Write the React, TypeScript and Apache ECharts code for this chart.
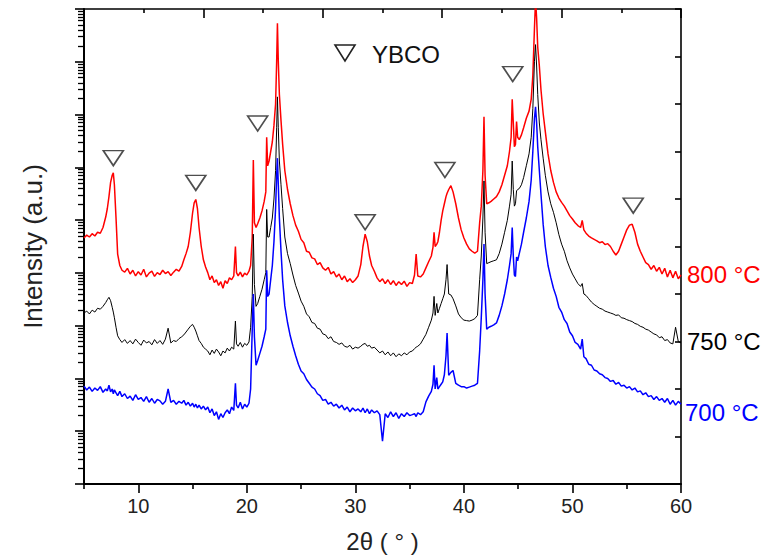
import React, { useEffect, useRef } from "react";
import * as echarts from "echarts";

// 2θ grid shared by the three patterns (degrees)
const twoTheta = [
  5.0, 5.25, 5.5, 5.75, 6.0, 6.25, 6.5, 6.75, 7.0,
  7.15, 7.3, 7.45, 7.6, 7.7, 7.8, 7.95, 8.1, 8.3, 8.5,
  8.75, 9.0, 9.25, 9.5, 9.75, 10.0, 10.25, 10.5, 10.75, 11.0, 11.25, 11.5, 11.75, 12.0, 12.25, 12.5, 12.75, 13.0, 13.25, 13.5, 13.75, 14.0,
  14.2, 14.4, 14.6, 14.8, 15.0, 15.15, 15.3, 15.45, 15.6, 15.8, 16.0, 16.2, 16.4,
  16.6, 16.8, 17.0, 17.2, 17.4, 17.6, 17.8, 18.0, 18.2, 18.4, 18.6, 18.8,
  18.95, 19.05, 19.2, 19.4, 19.6, 19.8, 20.0, 20.2, 20.35, 20.5, 20.6, 20.7, 20.85, 21.0, 21.2, 21.4, 21.6, 21.75, 21.83, 21.92, 22.05, 22.2, 22.35, 22.5, 22.65, 22.75, 22.82, 22.9, 23.0, 23.15, 23.3, 23.5, 23.75, 24.0,
  24.25, 24.5, 24.75, 25.0, 25.25, 25.5, 25.75, 26.0, 26.25, 26.5, 26.75, 27.0, 27.25, 27.5, 27.75, 28.0, 28.25, 28.5, 28.75, 29.0, 29.25, 29.5, 29.75, 30.0, 30.25,
  30.5, 30.7, 30.9, 31.1, 31.3, 31.5, 31.75,
  32.0, 32.25, 32.5, 32.75, 33.0, 33.25, 33.5, 33.75, 34.0, 34.25, 34.5, 34.75, 35.0, 35.25,
  35.45, 35.6, 35.75, 36.0, 36.25, 36.5, 36.75, 37.0, 37.15, 37.25,
  37.35, 37.5, 37.6, 37.75, 37.9, 38.05, 38.2, 38.35, 38.45, 38.6,
  38.8, 39.0, 39.25, 39.5, 39.75, 40.0, 40.25, 40.5, 40.75, 41.0,
  41.25, 41.45, 41.6, 41.75, 41.85, 41.95, 42.1, 42.3, 42.5, 42.75,
  43.0, 43.25, 43.5, 43.75, 44.0, 44.2, 44.35, 44.45, 44.55, 44.65,
  44.75, 44.85, 44.95, 45.1, 45.3, 45.5, 45.75, 46.0, 46.2, 46.35,
  46.5, 46.6, 46.7, 46.8, 46.95, 47.1, 47.3, 47.5, 47.75, 48.0,
  48.25, 48.5, 48.75, 49.0, 49.25, 49.5, 49.75, 50.0, 50.25, 50.5,
  50.75, 50.9, 51.05, 51.25, 51.5, 51.75, 52.0,
  52.25, 52.5, 52.75, 53.0, 53.25, 53.5, 53.75, 54.0, 54.25, 54.5,
  54.75, 55.0, 55.25, 55.5, 55.75, 56.0, 56.25, 56.5, 56.75, 57.0,
  57.25, 57.5, 57.75, 58.0, 58.25, 58.5, 58.75, 59.0, 59.25, 59.5,
  59.75, 60.0,
];

// Intensity (a.u., offset stacks)
const red800 = [
  5.18, 5.24, 5.2, 5.27, 5.22, 5.3, 5.28, 5.4, 5.62,
  5.8, 6.05, 6.35, 6.5, 6.55, 6.3, 5.6, 4.84, 4.6, 4.5,
  4.46, 4.54, 4.42, 4.5, 4.38, 4.47, 4.4, 4.52, 4.36, 4.44, 4.48, 4.37, 4.45, 4.41, 4.5, 4.43, 4.47, 4.39, 4.46, 4.52, 4.48, 4.58,
  4.72, 4.85, 5.0, 5.3, 5.7, 5.92, 5.99, 5.8, 5.4, 5.0, 4.72, 4.57, 4.45,
  4.3, 4.38, 4.24, 4.3, 4.18, 4.26, 4.12, 4.28, 4.22, 4.34, 4.3, 4.38,
  5.0, 4.45, 4.38, 4.46, 4.36, 4.44, 4.4, 4.48, 4.6, 5.2, 6.82, 5.5, 5.4, 5.48, 5.6, 5.75, 5.95, 6.15, 7.3, 6.7, 6.8, 7.0, 7.2, 7.55, 8.0, 8.9, 9.7, 8.9, 8.2, 7.65, 7.15, 6.6, 6.2, 5.9,
  5.65, 5.45, 5.32, 5.15, 5.08, 4.9, 4.88, 4.76, 4.74, 4.62, 4.66, 4.55, 4.5, 4.56, 4.42, 4.47, 4.36, 4.42, 4.3, 4.38, 4.26, 4.32, 4.24, 4.3, 4.38,
  4.62, 5.0, 5.26, 5.1, 4.8, 4.6, 4.48,
  4.34, 4.26, 4.32, 4.22, 4.3, 4.2, 4.28, 4.18, 4.26, 4.2, 4.27, 4.16, 4.24, 4.22,
  4.4, 4.84, 4.38, 4.36, 4.42, 4.55, 4.68, 4.8, 4.98, 5.3,
  5.0, 5.05, 5.1, 5.3, 5.55, 5.75, 5.9, 6.05, 6.12, 6.2,
  6.28, 6.15, 5.9, 5.6, 5.35, 5.18, 5.05, 4.95, 4.9, 4.86,
  4.9, 5.5, 5.85, 6.6, 7.73, 6.5, 5.9, 5.92, 5.95, 6.0,
  6.05, 6.15, 6.3, 6.5, 6.7, 7.0, 7.3, 8.1, 7.6, 7.1,
  7.15, 7.63, 7.3, 7.25, 7.35, 7.5, 7.7, 7.85, 8.1, 8.6,
  9.6, 10.2, 9.8, 9.2, 8.8, 8.3, 7.8, 7.42, 6.95, 6.6,
  6.35, 6.15, 6.02, 5.93, 5.85, 5.75, 5.65, 5.58, 5.5, 5.44,
  5.4, 5.55, 5.35, 5.28, 5.22, 5.18, 5.15,
  5.12, 5.08, 5.1, 5.04, 5.06, 5.0, 4.9, 4.82, 4.9, 5.05,
  5.2, 5.35, 5.45, 5.47, 5.3, 5.05, 4.9, 4.78, 4.66, 4.62,
  4.52, 4.6, 4.48, 4.56, 4.42, 4.54, 4.36, 4.5, 4.34, 4.48,
  4.32, 4.4,
];

const black750 = [
  3.6, 3.64, 3.58, 3.66, 3.62, 3.7, 3.68, 3.74, 3.82,
  3.88, 3.93, 3.86, 3.72, 3.62, 3.5, 3.3, 3.12, 3.04, 2.98,
  3.04, 2.96, 3.02, 2.95, 3.05, 2.98, 2.92, 3.03, 2.97, 3.0, 2.93, 3.04, 2.96, 3.02, 2.94, 3.05, 3.28, 2.97, 3.02, 3.0, 3.06, 3.1,
  3.14, 3.2, 3.26, 3.32, 3.36, 3.3, 3.22, 3.12, 3.02, 2.96, 2.88, 2.84, 2.8,
  2.72, 2.82, 2.75, 2.84, 2.78, 2.7, 2.8, 2.76, 2.86, 2.8, 2.88, 2.84,
  3.43, 2.95, 2.9, 2.98, 2.88, 2.96, 2.92, 2.99, 3.3, 3.95, 5.26, 4.2, 3.74, 3.8, 3.95, 4.1, 4.3, 4.45, 5.78, 5.2, 5.2, 5.4, 5.6, 6.0, 6.6, 7.5, 8.15, 7.5, 6.8, 6.3, 5.8, 5.2, 4.85, 4.64,
  4.4, 4.18, 4.02, 3.85, 3.74, 3.58, 3.52, 3.4, 3.38, 3.28, 3.26, 3.16, 3.14, 3.06, 3.1, 3.0, 2.98, 2.94, 2.97, 2.9, 2.88, 2.92, 2.84, 2.88, 2.86,
  2.9, 2.94, 2.96, 2.9, 2.92, 2.86, 2.88,
  2.82, 2.76, 2.8, 2.72, 2.78, 2.7, 2.76, 2.68, 2.74, 2.7, 2.76, 2.72, 2.78, 2.8,
  2.85, 2.88, 2.9, 2.95, 3.05, 3.15, 3.3, 3.45, 3.6, 3.95,
  3.55, 3.8, 3.6, 3.7, 3.8, 3.9, 4.0, 4.3, 4.62, 4.0,
  3.98, 3.9, 3.75, 3.58, 3.5, 3.45, 3.44, 3.43, 3.45, 3.48,
  3.55, 4.3, 4.8, 5.6, 6.38, 5.3, 4.64, 4.66, 4.68, 4.7,
  4.72, 4.85, 5.05, 5.3, 5.55, 5.85, 6.1, 6.8, 6.2, 5.85,
  5.9, 6.17, 6.2, 6.22, 6.3, 6.45, 6.7, 6.95, 7.3, 7.9,
  8.9, 9.25, 8.8, 8.2, 7.6, 7.25, 6.86, 6.5, 6.15, 5.9,
  5.72, 5.5, 5.25, 5.05, 4.9, 4.7, 4.55, 4.42, 4.32, 4.22,
  4.16, 4.22, 4.0, 3.97, 3.9, 3.83, 3.78,
  3.74, 3.7, 3.68, 3.64, 3.62, 3.6, 3.58, 3.55, 3.56, 3.5,
  3.49, 3.46, 3.44, 3.42, 3.38, 3.36, 3.32, 3.3, 3.26, 3.24,
  3.2, 3.16, 3.14, 3.08, 3.1, 3.02, 3.04, 2.97, 2.95, 3.3,
  3.0, 2.97,
];

const blue700 = [
  2.06, 1.98, 2.04, 1.95, 2.02, 1.97, 2.05, 1.93, 2.0,
  1.96, 2.08, 1.94, 2.0, 1.9, 1.98, 1.92, 1.86, 1.95, 1.84,
  1.9, 1.8, 1.85, 1.76, 1.88, 1.78, 1.82, 1.74, 1.84, 1.72, 1.8, 1.7, 1.78, 1.75, 1.68, 1.74, 2.0, 1.72, 1.76, 1.68, 1.74, 1.7,
  1.76, 1.66, 1.72, 1.64, 1.7, 1.62, 1.68, 1.6, 1.66, 1.58, 1.64, 1.56, 1.62,
  1.5, 1.58, 1.44, 1.52, 1.36, 1.48, 1.4, 1.5, 1.56, 1.48, 1.62, 1.55,
  2.12, 1.66, 1.6, 1.72, 1.58, 1.68, 1.62, 1.7, 2.0, 3.26, 4.0, 3.1, 2.5, 2.6, 2.75, 2.9, 3.1, 3.26, 4.5, 3.95, 4.0, 4.3, 4.6, 5.1, 5.8, 6.5, 6.86, 6.3, 5.6, 4.9, 4.3, 3.75, 3.4, 3.12,
  2.9, 2.7, 2.52, 2.38, 2.32, 2.2, 2.12, 2.04, 2.0, 1.9, 1.86, 1.76, 1.78, 1.68, 1.72, 1.64, 1.68, 1.6, 1.66, 1.56, 1.62, 1.52, 1.6, 1.54, 1.58,
  1.52, 1.6, 1.5, 1.58, 1.48, 1.56, 1.5,
  1.54, 1.46, 0.9, 1.48, 1.4, 1.52, 1.42, 1.5, 1.38, 1.48, 1.42, 1.5, 1.44, 1.46,
  1.48, 1.42, 1.5, 1.46, 1.52, 1.73, 1.85, 1.95, 2.1, 2.5,
  2.0, 2.24, 2.0, 2.05, 2.1, 2.15, 2.3, 2.7, 3.18, 2.29,
  2.35, 2.39, 2.12, 2.08, 2.05, 2.05, 2.02, 2.04, 2.06, 2.08,
  2.12, 2.8, 3.5, 4.3, 5.05, 4.0, 3.26, 3.3, 3.32, 3.35,
  3.39, 3.55, 3.75, 4.0, 4.3, 4.6, 4.85, 5.4, 4.8, 4.4,
  4.37, 4.78, 4.7, 4.85, 5.05, 5.3, 5.6, 5.95, 6.4, 7.0,
  7.7, 7.94, 7.6, 7.1, 6.6, 6.1, 5.47, 5.0, 4.6, 4.35,
  4.12, 3.95, 3.72, 3.62, 3.46, 3.38, 3.2, 3.12, 2.98, 2.94,
  2.84, 3.05, 2.68, 2.64, 2.52, 2.5, 2.4,
  2.38, 2.32, 2.3, 2.24, 2.22, 2.16, 2.18, 2.1, 2.14, 2.06,
  2.08, 2.02, 2.05, 1.98, 2.02, 1.94, 1.96, 1.88, 1.92, 1.84,
  1.86, 1.78, 1.84, 1.76, 1.8, 1.72, 1.8, 1.68, 1.76, 1.66,
  1.74, 1.68,
];

// YBCO reflection markers (2θ, level in a.u.)
const ybcoTheta = [7.7, 15.3, 21.0, 30.9, 38.25, 44.5, 55.6];
const ybcoLevel = [6.86, 6.34, 7.59, 5.51, 6.61, 8.63, 5.86];

const xTickLabels = [10, 20, 30, 40, 50, 60];
const xMinorTicks = [5, 15, 25, 35, 45, 55];
const tempLabels = ["800 °C", "750 °C", "700 °C"];
const tempColors = ["#ff0000", "#000000", "#0000ff"];

export default function App() {
  const ref = useRef<HTMLDivElement>(null);
  useEffect(() => {
    const chart = echarts.init(ref.current!, null, { renderer: "svg" });
    const font = "'Liberation Sans', Arial, sans-serif";
    const axisColor = "#000";
    const logMinor: number[] = [];
    for (let n = 0; n < 9; n++) for (let k = 2; k <= 9; k++) logMinor.push(n + Math.log10(k));
    const zip = (ys: number[]) => twoTheta.map((t, i) => [t, ys[i]]);
    const tickStyle = { color: axisColor, width: 1.6 };
    const lineSeries = (name: string, ys: number[], color: string, width: number) => ({
      type: "line",
      name,
      data: zip(ys),
      xAxisIndex: 0,
      yAxisIndex: 1,
      showSymbol: false,
      symbol: "none",
      lineStyle: { color, width },
      itemStyle: { color },
      z: 3,
    });
    chart.setOption({
      animation: false,
      grid: { left: 84, right: 92, top: 9, bottom: 68 },
      xAxis: [
        {
          type: "value", min: 5, max: 60, position: "bottom",
          axisLine: { show: true, onZero: false, lineStyle: { color: axisColor, width: 2 } },
          axisTick: { show: true, customValues: xTickLabels, length: 9, lineStyle: tickStyle },
          axisLabel: { customValues: xTickLabels, fontSize: 20, color: "#222", fontFamily: font, margin: 12 },
          splitLine: { show: false },
          name: "2θ ( ° )", nameLocation: "middle", nameGap: 45,
          nameTextStyle: { fontSize: 24, color: "#222", fontFamily: font },
        },
        {
          type: "value", min: 0, max: 10, interval: 2, position: "top",
          axisLine: { show: true, onZero: false, lineStyle: { color: axisColor, width: 1.6 } },
          axisTick: { show: true, inside: true, length: 9, lineStyle: tickStyle },
          minorTick: { show: true, splitNumber: 2, length: 4, lineStyle: tickStyle },
          axisLabel: { show: false },
          splitLine: { show: false },
        },
        {
          type: "value", min: 5, max: 60, position: "bottom",
          axisLine: { show: false, onZero: false },
          axisTick: { show: true, customValues: xMinorTicks, length: 5, lineStyle: tickStyle },
          axisLabel: { show: false },
          splitLine: { show: false },
        },
      ],
      yAxis: [
        {
          type: "value", min: 0, max: 9, interval: 1, position: "left",
          axisLine: { show: true, onZero: false, lineStyle: { color: axisColor, width: 2 } },
          axisTick: { show: true, length: 9, lineStyle: tickStyle },
          axisLabel: { show: false },
          splitLine: { show: false },
          name: "Intensity (a.u.)", nameLocation: "middle", nameGap: 38,
          nameTextStyle: { fontSize: 26, color: "#222", fontFamily: font },
        },
        {
          type: "value", min: 0, max: 10, interval: 1, position: "right",
          axisLine: { show: true, onZero: false, lineStyle: { color: axisColor, width: 1.6 } },
          axisTick: { show: true, inside: true, length: 6, lineStyle: tickStyle },
          axisLabel: { show: false },
          splitLine: { show: false },
        },
        {
          type: "value", min: 0, max: 9, position: "left",
          axisLine: { show: false, onZero: false },
          axisTick: { show: true, customValues: logMinor, length: 6, lineStyle: { color: axisColor, width: 1.3 } },
          axisLabel: { show: false },
          splitLine: { show: false },
        },
      ],
      series: [
        lineSeries("800 °C", red800, "#ff0000", 1.5),
        lineSeries("750 °C", black750, "#000000", 1.0),
        lineSeries("700 °C", blue700, "#0000ff", 1.5),
        {
          type: "scatter",
          name: "YBCO",
          xAxisIndex: 0,
          yAxisIndex: 1,
          data: ybcoTheta.map((t, i) => [t, ybcoLevel[i]]),
          symbol: "triangle",
          symbolRotate: 180,
          symbolSize: [20, 15],
          itemStyle: { color: "rgba(255,255,255,0)", borderColor: "#222", borderWidth: 1.6 },
          z: 5,
        },
      ],
      graphic: [
        {
          type: "polygon",
          shape: { points: [[335, 45], [355, 45], [345, 61]] },
          style: { fill: "rgba(255,255,255,0)", stroke: "#222", lineWidth: 1.6 },
        },
        {
          type: "text", x: 372, y: 54,
          style: { text: "YBCO", fill: "#111", fontSize: 24, fontFamily: font, verticalAlign: "middle", align: "left" },
        },
        {
          type: "text", x: 687, y: 274,
          style: { text: tempLabels[0], fill: tempColors[0], fontSize: 24, fontFamily: font, verticalAlign: "middle", align: "left" },
        },
        {
          type: "text", x: 687, y: 341,
          style: { text: tempLabels[1], fill: tempColors[1], fontSize: 24, fontFamily: font, verticalAlign: "middle", align: "left" },
        },
        {
          type: "text", x: 685, y: 412,
          style: { text: tempLabels[2], fill: tempColors[2], fontSize: 24, fontFamily: font, verticalAlign: "middle", align: "left" },
        },
      ],
    });
    return () => chart.dispose();
  }, []);
  return (
    <div
      ref={ref}
      style={{ position: "absolute", left: 0, top: 0, width: 773, height: 558, background: "#fff" }}
    />
  );
}
